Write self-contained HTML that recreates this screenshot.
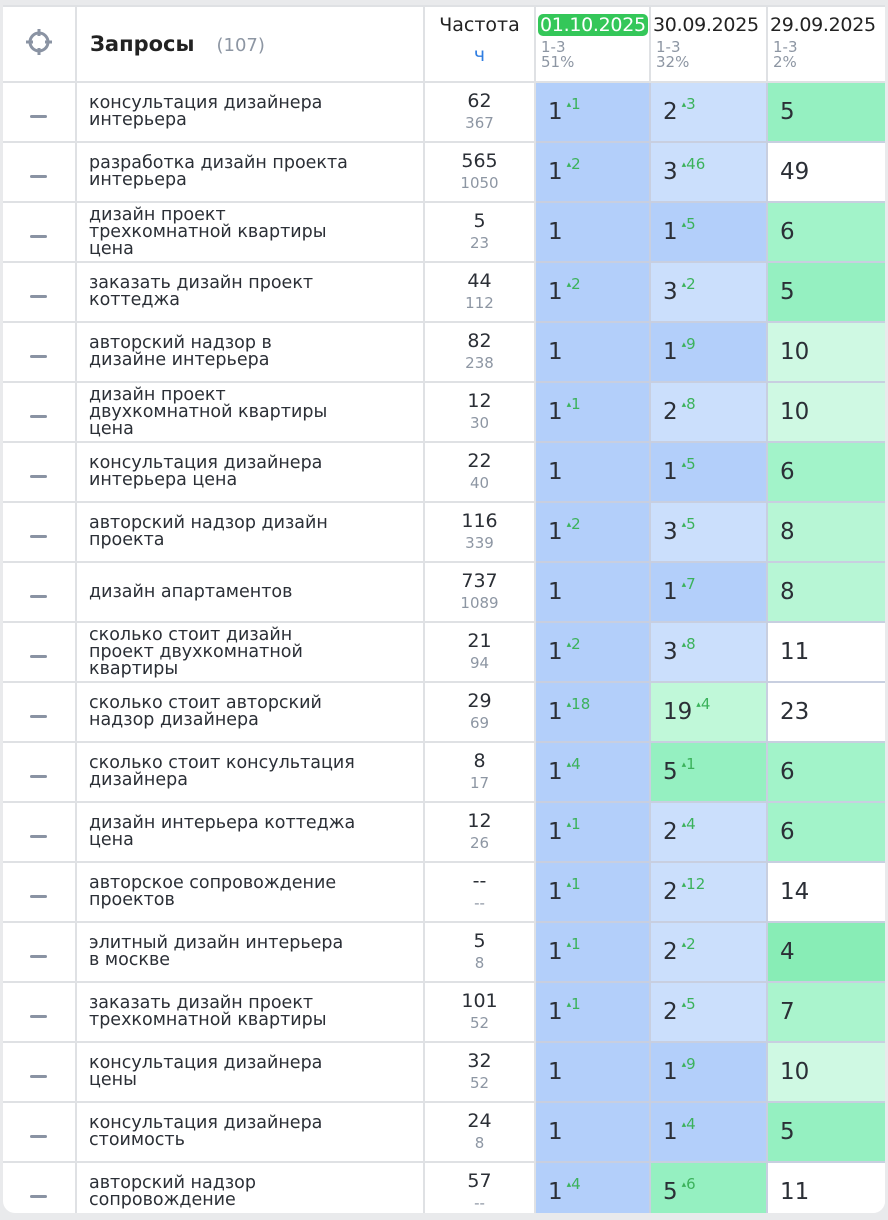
<!DOCTYPE html>
<html><head><meta charset="utf-8"><style>
html,body{margin:0;padding:0;background:#e9eaec;width:888px;height:1220px;overflow:hidden}
.wrap{position:absolute;left:3px;top:5px;width:882px;height:1208px;background:#fff;border-radius:0 0 12px 12px;overflow:hidden}
table{border-collapse:collapse;table-layout:fixed;position:absolute;left:-3px;top:0;width:890px}
td{border:2px solid #dfe1e4;padding:0;height:58px;font-family:"DejaVu Sans","Liberation Sans",sans-serif;color:#2b2f36;vertical-align:middle}
td.ic{text-align:center}
.dash{display:inline-block;width:17px;height:3px;background:#8a93a3;border-radius:2px}
td.q{padding-left:12px;font-size:17.5px;line-height:17px}
td.f{text-align:center;font-size:19px;line-height:22px}
td.f span{display:block;font-size:15px;color:#8d96a3;line-height:23px}
td.v{padding-left:12px;font-size:23px;border-color:#c8cfe0}
sup{font-size:15px;color:#3bb25b;vertical-align:0;position:relative;top:-10px;margin-left:4px}
sup:before{content:"▴";font-size:9px;position:relative;top:-2px}
.b1{background:#b3cffa}.b2{background:#cbdffc}
.g4{background:#88edb6}.g5{background:#95f0c1}.g6{background:#a2f3c9}.g7{background:#aaf4cd}.g8{background:#b7f6d5}.g10{background:#cff9e3}.g19{background:#c0f8d9}.w{background:#fff}
th{font-weight:normal;font-family:"DejaVu Sans","Liberation Sans",sans-serif;border:2px solid #dfe1e4;height:74px;vertical-align:top;padding:0}
.dh{font-size:19px;margin-top:7px;padding-left:2px;text-align:left;white-space:nowrap;color:#222;letter-spacing:-0.3px}
.dh b{font-weight:normal;background:#34c759;color:#fff;border-radius:5px;padding:0 2px}
.sub{font-size:15px;color:#8d96a3;text-align:left;padding-left:5px;line-height:15px;margin-top:4px}
</style></head><body><div class="wrap">
<table>
<colgroup><col style="width:75px"><col style="width:348px"><col style="width:111px"><col style="width:115px"><col style="width:117px"><col style="width:124px"></colgroup>
<tr>
<th style="vertical-align:middle"><svg width="30" height="30" viewBox="0 0 30 30"><circle cx="15" cy="15" r="9" fill="none" stroke="#8a93a3" stroke-width="3"/><path d="M15 2v7M15 21v7M2 15h7M21 15h7" stroke="#8a93a3" stroke-width="3"/></svg></th>
<th style="text-align:left;vertical-align:middle;padding-left:13px"><span style="font-size:21px;font-weight:bold;color:#222">Запросы</span><span style="font-size:18px;color:#8d96a3;margin-left:22px">(107)</span></th>
<th><div style="font-size:19px;margin-top:7px;color:#222">Частота</div><div style="font-size:19px;color:#2f7de1;margin-top:8px">ч</div></th>
<th><div class="dh"><b>01.10.2025</b></div><div class="sub">1-3<br>51%</div></th>
<th><div class="dh">30.09.2025</div><div class="sub">1-3<br>32%</div></th>
<th><div class="dh">29.09.2025</div><div class="sub">1-3<br>2%</div></th>
</tr>
<tr><td class="ic"><i class="dash"></i></td><td class="q">консультация дизайнера<br>интерьера</td><td class="f">62<span>367</span></td><td class="v b1">1<sup>1</sup></td><td class="v b2">2<sup>3</sup></td><td class="v g5">5</td></tr>
<tr><td class="ic"><i class="dash"></i></td><td class="q">разработка дизайн проекта<br>интерьера</td><td class="f">565<span>1050</span></td><td class="v b1">1<sup>2</sup></td><td class="v b2">3<sup>46</sup></td><td class="v w">49</td></tr>
<tr><td class="ic"><i class="dash"></i></td><td class="q">дизайн проект<br>трехкомнатной квартиры<br>цена</td><td class="f">5<span>23</span></td><td class="v b1">1</td><td class="v b1">1<sup>5</sup></td><td class="v g6">6</td></tr>
<tr><td class="ic"><i class="dash"></i></td><td class="q">заказать дизайн проект<br>коттеджа</td><td class="f">44<span>112</span></td><td class="v b1">1<sup>2</sup></td><td class="v b2">3<sup>2</sup></td><td class="v g5">5</td></tr>
<tr><td class="ic"><i class="dash"></i></td><td class="q">авторский надзор в<br>дизайне интерьера</td><td class="f">82<span>238</span></td><td class="v b1">1</td><td class="v b1">1<sup>9</sup></td><td class="v g10">10</td></tr>
<tr><td class="ic"><i class="dash"></i></td><td class="q">дизайн проект<br>двухкомнатной квартиры<br>цена</td><td class="f">12<span>30</span></td><td class="v b1">1<sup>1</sup></td><td class="v b2">2<sup>8</sup></td><td class="v g10">10</td></tr>
<tr><td class="ic"><i class="dash"></i></td><td class="q">консультация дизайнера<br>интерьера цена</td><td class="f">22<span>40</span></td><td class="v b1">1</td><td class="v b1">1<sup>5</sup></td><td class="v g6">6</td></tr>
<tr><td class="ic"><i class="dash"></i></td><td class="q">авторский надзор дизайн<br>проекта</td><td class="f">116<span>339</span></td><td class="v b1">1<sup>2</sup></td><td class="v b2">3<sup>5</sup></td><td class="v g8">8</td></tr>
<tr><td class="ic"><i class="dash"></i></td><td class="q">дизайн апартаментов</td><td class="f">737<span>1089</span></td><td class="v b1">1</td><td class="v b1">1<sup>7</sup></td><td class="v g8">8</td></tr>
<tr><td class="ic"><i class="dash"></i></td><td class="q">сколько стоит дизайн<br>проект двухкомнатной<br>квартиры</td><td class="f">21<span>94</span></td><td class="v b1">1<sup>2</sup></td><td class="v b2">3<sup>8</sup></td><td class="v w">11</td></tr>
<tr><td class="ic"><i class="dash"></i></td><td class="q">сколько стоит авторский<br>надзор дизайнера</td><td class="f">29<span>69</span></td><td class="v b1">1<sup>18</sup></td><td class="v g19">19<sup>4</sup></td><td class="v w">23</td></tr>
<tr><td class="ic"><i class="dash"></i></td><td class="q">сколько стоит консультация<br>дизайнера</td><td class="f">8<span>17</span></td><td class="v b1">1<sup>4</sup></td><td class="v g5">5<sup>1</sup></td><td class="v g6">6</td></tr>
<tr><td class="ic"><i class="dash"></i></td><td class="q">дизайн интерьера коттеджа<br>цена</td><td class="f">12<span>26</span></td><td class="v b1">1<sup>1</sup></td><td class="v b2">2<sup>4</sup></td><td class="v g6">6</td></tr>
<tr><td class="ic"><i class="dash"></i></td><td class="q">авторское сопровождение<br>проектов</td><td class="f">--<span>--</span></td><td class="v b1">1<sup>1</sup></td><td class="v b2">2<sup>12</sup></td><td class="v w">14</td></tr>
<tr><td class="ic"><i class="dash"></i></td><td class="q">элитный дизайн интерьера<br>в москве</td><td class="f">5<span>8</span></td><td class="v b1">1<sup>1</sup></td><td class="v b2">2<sup>2</sup></td><td class="v g4">4</td></tr>
<tr><td class="ic"><i class="dash"></i></td><td class="q">заказать дизайн проект<br>трехкомнатной квартиры</td><td class="f">101<span>52</span></td><td class="v b1">1<sup>1</sup></td><td class="v b2">2<sup>5</sup></td><td class="v g7">7</td></tr>
<tr><td class="ic"><i class="dash"></i></td><td class="q">консультация дизайнера<br>цены</td><td class="f">32<span>52</span></td><td class="v b1">1</td><td class="v b1">1<sup>9</sup></td><td class="v g10">10</td></tr>
<tr><td class="ic"><i class="dash"></i></td><td class="q">консультация дизайнера<br>стоимость</td><td class="f">24<span>8</span></td><td class="v b1">1</td><td class="v b1">1<sup>4</sup></td><td class="v g5">5</td></tr>
<tr><td class="ic"><i class="dash"></i></td><td class="q">авторский надзор<br>сопровождение</td><td class="f">57<span>--</span></td><td class="v b1">1<sup>4</sup></td><td class="v g5">5<sup>6</sup></td><td class="v w">11</td></tr>
</table></div></body></html>
